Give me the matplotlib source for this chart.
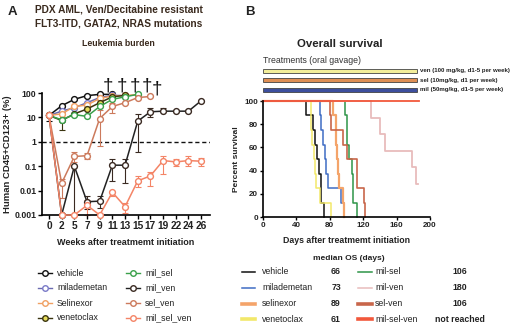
import matplotlib
matplotlib.use("Agg")
import matplotlib.pyplot as plt
import numpy as np
from matplotlib.lines import Line2D

plt.rcParams['font.family'] = ['Liberation Sans', 'DejaVu Sans']

nan = np.nan

# ---- panel A data: leukemia burden (% human CD45+CD123+) ----
weeks = [0, 2, 5, 7, 9, 11, 13, 15, 17, 19, 22, 24, 26]
groups_a = ['vehicle', 'milademetan', 'Selinexor', 'venetoclax',
            'mil_sel', 'mil_ven', 'sel_ven', 'mil_sel_ven']
vehicle = [12, 30, 55, 78, 88, 88]
milademetan = [12, 18, 25, 40, 65, 80, 78]
selinexor = [12, 14, 28, 32, 60, 75, 80, 85]
venetoclax = [12, 7.5, 14, 22, 40, 70, 80]
mil_sel = [12, 8, 13, 11, 28, 55, 70, 88]
mil_ven = [12, 0.001, 0.1, 0.0035, 0.0037, 0.11, 0.11, 7, 17, 18, 18, 18, 48]
sel_ven = [12, 0.02, 0.25, 0.27, 9, 28, 40, 65, 72]
mil_sel_ven = [12, 0.001, 0.001, 0.0025, 0.001, 0.0085, 0.0022, 0.025, 0.04,
               0.17, 0.15, 0.17, 0.16]
series_a = [vehicle, milademetan, selinexor, venetoclax, mil_sel, mil_ven, sel_ven, mil_sel_ven]

# error bar bounds (lower, upper), nan = none shown
err_lo = {
    'vehicle': [7], 'venetoclax': [nan, 3],
    'mil_ven': [nan, nan, 0.001, 0.0018, 0.002, 0.025, 0.02, 0.4, 10, nan, nan, nan, nan],
    'sel_ven': [nan, 0.005, 0.15, 0.2, 0.7, 15],
    'mil_sel_ven': [nan, nan, nan, 0.001, nan, 0.006, 0.0012, 0.014, 0.016, 0.05, 0.1, 0.1, 0.1],
}
err_hi = {
    'vehicle': [15], 'venetoclax': [nan, 9],
    'mil_ven': [nan, nan, nan, 0.006, 0.006, 0.2, 0.2, 14, 25, 25, nan, nan, nan],
    'sel_ven': [nan, 0.03, 0.4, 0.35, 20, 40],
    'mil_sel_ven': [nan, nan, nan, 0.004, nan, 0.01, 0.003, 0.04, 0.06, 0.25, 0.2, 0.25, 0.22],
}
death_marks = [4.66, 5.76, 6.79, 7.73, 8.5]
death_y = [190, 190, 190, 190, 140]

edge_a = ['#111111', '#7a7ac8', '#f0a062', '#3a3410', '#3aa04a', '#3a2a22', '#cc7a5c', '#f48466']
face_a = ['white', 'white', 'white', '#e6dc5a', 'white', 'white', 'white', 'white']
line_a = ['#111111', '#6a6ab0', '#f0a062', '#3a3410', '#3aa04a', '#222222', '#cc7a5c', '#f48466']

# ---- panel B data: overall survival ----
groups_b = ['vehicle', 'milademetan', 'selinexor', 'venetoclax',
            'mil-sel', 'mil-ven', 'sel-ven', 'mil-sel-ven']
median_os = ['66', '73', '89', '61', '106', '180', '106', 'not reached']
deaths_b = [
    [52, 60, 62, 65, 67, 69, 70, 73],
    [68, 70, 72, 74, 76, 78, 94, 97],
    [84, 87, 88, 89, 90, 91, 96, 97],
    [57, 58, 59, 61, 62, 63, 68, 82],
    [98, 100, 101, 103, 106, 108, 108, 112],
    [129, 140, 146, 178, 183],
    [80, 82, 96, 100, 112, 112, 121, 122],
    [],
]
censored_b = [[], [], [], [], [], [186, 186], [], [187] * 7]
color_b = ['#111111', '#3f6cc4', '#f4a46a', '#f2e86a', '#2e9448', '#e8bcbc', '#c8664a', '#f2583c']
lw_b = [1.1, 1.1, 1.6, 1.1, 1.1, 1.3, 1.2, 1.3]

treatments = ['ven (100 mg/kg, d1-5 per week)', 'sel (10mg/kg, d1 per week)',
              'mil (50mg/kg, d1-5 per week)']
treatment_end = 185
treat_face = ['#f3ee9a', '#df8f55', '#3d4f9e']
treat_y = [126, 118, 109.5]

fig = plt.figure(figsize=(5.2, 3.27), dpi=100)
txt = '#222222'

# ================= panel A =================
axA = fig.add_axes([42 / 520, 1 - 215 / 327, 168 / 520, 122 / 327])
xi = np.arange(len(weeks))
for name, vals, ec, fc, lc in zip(groups_a, series_a, edge_a, face_a, line_a):
    v = np.array(vals, dtype=float)
    x = xi[:len(v)]
    if name in err_lo:
        lo = np.full(len(v), nan)
        hi = np.full(len(v), nan)
        lo[:len(err_lo[name])] = err_lo[name]
        hi[:len(err_hi[name])] = err_hi[name]
        yerr = np.vstack([np.nan_to_num(v - lo), np.nan_to_num(hi - v)])
        axA.errorbar(x, v, yerr=yerr, fmt='none', ecolor=ec, elinewidth=0.8,
                     capsize=2, capthick=0.8, zorder=2, clip_on=False)
    axA.plot(x, v, '-o', color=lc, lw=1.1, ms=4.2, mfc=fc, mec=ec, mew=1.0,
             zorder=3, clip_on=False)
for dx, dy in zip(death_marks, death_y):
    axA.text(dx, dy, '\u2020', ha='center', va='center', fontsize=13.5,
             color='#111111', clip_on=False)
axA.axhline(1, color='#111111', lw=1.0, ls=(0, (3, 2)), zorder=1)
axA.set_yscale('log')
axA.set_ylim(0.001, 100)
axA.set_xlim(-0.55, 12.7)
axA.set_yticks([0.001, 0.01, 0.1, 1, 10, 100])
axA.set_yticklabels(['0.001', '0.01', '0.1', '1', '10', '100'])
axA.minorticks_off()
axA.set_xticks(xi)
axA.set_xticklabels([str(w) for w in weeks])
axA.tick_params(axis='y', labelsize=6.3, length=3, width=1, pad=1)
axA.tick_params(axis='x', labelsize=7.3, length=3, width=1, pad=1.5)
for lab in axA.get_xticklabels() + axA.get_yticklabels():
    lab.set_fontweight('bold')
    lab.set_color(txt)
for s in ['top', 'right']:
    axA.spines[s].set_visible(False)
for s in ['left', 'bottom']:
    axA.spines[s].set_linewidth(1.2)
axA.set_ylabel('Human CD45+CD123+ (%)', fontsize=6.8, fontweight='bold', color=txt, labelpad=2)
axA.set_xlabel('Weeks after treatmemt initiation', fontsize=6.5, fontweight='bold',
               color=txt, labelpad=5)

fig.text(8 / 520, 1 - 12 / 327, 'A', fontsize=9.5, fontweight='bold', va='center', color=txt)
fig.text(35 / 520, 1 - 10 / 327, 'PDX AML, Ven/Decitabine resistant', fontsize=7.3,
         fontweight='bold', va='center', color='#3a2a1e')
fig.text(35 / 520, 1 - 23 / 327, 'FLT3-ITD, GATA2, NRAS mutations', fontsize=7.3,
         fontweight='bold', va='center', color='#3a2a1e')
fig.text(118 / 520, 1 - 44 / 327, 'Leukemia burden', fontsize=6.3, fontweight='bold',
         ha='center', va='center', color='#3a2a1e')

# legend A
for i, (name, ec, fc, lc) in enumerate(zip(groups_a, edge_a, face_a, line_a)):
    col, row = divmod(i, 4)
    xc = [45, 133][col] / 520
    y = 1 - [273, 288, 303, 318][row] / 327
    fig.add_artist(Line2D([xc - 7 / 520, xc + 7 / 520], [y, y], color=lc, lw=1.0,
                          transform=fig.transFigure))
    fig.add_artist(Line2D([xc], [y], marker='o', ms=4, mfc=fc, mec=ec, mew=1.0,
                          transform=fig.transFigure))
    fig.text(xc + 12 / 520, y, name, fontsize=6.3, va='center', color=txt)

# ================= panel B =================
axB = fig.add_axes([263 / 520, 1 - 217 / 327, 167 / 520, 116 / 327])
for d, c, col, lw in zip(deaths_b, censored_b, color_b, lw_b):
    n = len(d) + len(c)
    xs = [0] + sorted(d)
    ys = [100] + [100 * (1 - (k + 1) / n) for k in range(len(d))]
    end = max(c) if c else xs[-1]
    xs.append(end)
    ys.append(ys[-1])
    axB.step(xs, ys, where='post', color=col, lw=lw, clip_on=False)
axB.set_xlim(0, 200)
axB.set_ylim(0, 100)
axB.set_xticks([0, 40, 80, 120, 160, 200])
axB.set_yticks([0, 20, 40, 60, 80, 100])
axB.tick_params(axis='both', labelsize=5.8, length=2.5, width=1, pad=1)
for lab in axB.get_xticklabels() + axB.get_yticklabels():
    lab.set_fontweight('bold')
    lab.set_color(txt)
for s in ['top', 'right']:
    axB.spines[s].set_visible(False)
for s in ['left', 'bottom']:
    axB.spines[s].set_linewidth(1.2)
axB.set_ylabel('Percent survival', fontsize=6.0, fontweight='bold', color=txt, labelpad=3)
axB.set_xlabel('Days after treatmemt initiation', fontsize=6.3, fontweight='bold',
               color=txt, labelpad=5)

# treatment bars
axB.barh(treat_y, [treatment_end] * 3, left=0, height=3.8, color=treat_face,
         edgecolor='#444444', linewidth=0.6, clip_on=False)
for ty, lab in zip(treat_y, treatments):
    axB.text(treatment_end + 3, ty, lab, fontsize=4.4, fontweight='bold',
             va='center', color=txt, clip_on=False)
axB.text(0, 135, 'Treatments (oral gavage)', fontsize=6.3, va='center', color='#333333',
         clip_on=False)

fig.text(245 / 520, 1 - 12 / 327, 'B', fontsize=9.5, fontweight='bold', va='center', color=txt)
fig.text(340 / 520, 1 - 44 / 327, 'Overall survival', fontsize=8.2, fontweight='bold',
         ha='center', va='center', color=txt)
fig.text(349 / 520, 1 - 258 / 327, 'median OS (days)', fontsize=6.0, fontweight='bold',
         ha='center', va='center', color=txt)

# legend B
for i, (name, med, col, lw) in enumerate(zip(groups_b, median_os, color_b, lw_b)):
    c, row = divmod(i, 4)
    x0, x1 = [(242, 255), (358, 372)][c]
    y = 1 - [272, 288, 304, 319][row] / 327
    thick = 2.6 if name in ('selinexor', 'venetoclax', 'sel-ven', 'mil-sel-ven') else 1.1
    fig.add_artist(Line2D([x0 / 520, x1 / 520], [y, y], color=col, lw=thick,
                          transform=fig.transFigure))
    fig.text([262, 375][c] / 520, y, name, fontsize=6.3, va='center', color=txt)
    fig.text([336, 460][c] / 520, y, med, fontsize=6.3, fontweight='bold',
             ha='center', va='center', color=txt)

fig.savefig('out.png', dpi=100)
